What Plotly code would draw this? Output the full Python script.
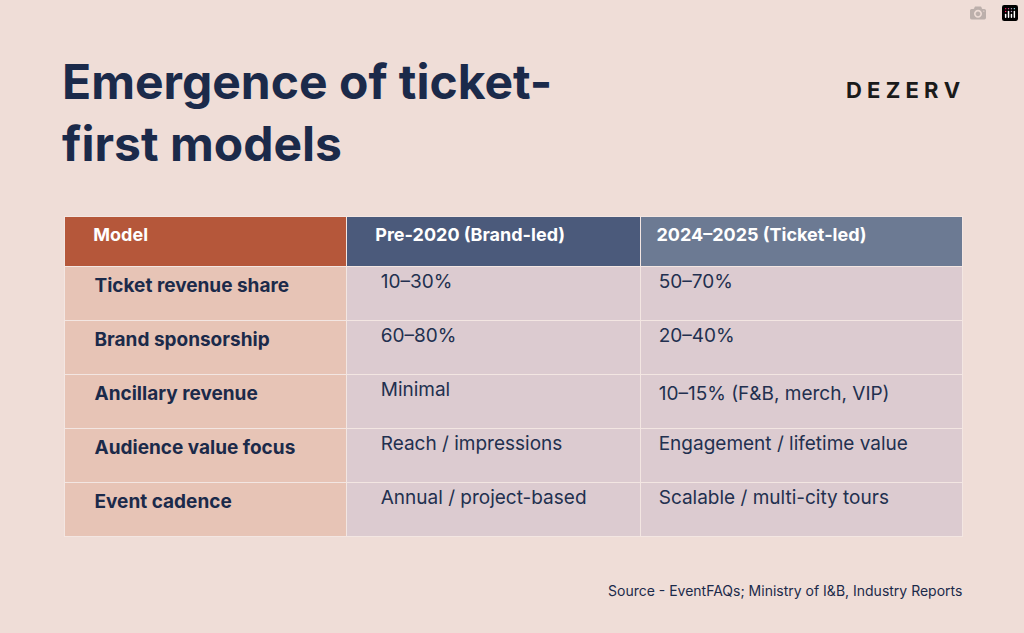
import plotly.graph_objects as go

headers = ["Model", "Pre-2020 (Brand-led)", "2024–2025 (Ticket-led)"]
models = ["Ticket revenue share", "Brand sponsorship", "Ancillary revenue",
          "Audience value focus", "Event cadence"]
pre2020 = ["10–30%", "60–80%", "Minimal", "Reach / impressions", "Annual / project-based"]
ticket_led = ["50–70%", "20–40%", "10–15% (F&B, merch, VIP)",
              "Engagement / lifetime value", "Scalable / multi-city tours"]

NB = "\u00a0"
def pad(lst, n):
    return [NB * n + s for s in lst]

navy = "#1B2A4A"
bg = "#EFDDD7"

fig = go.Figure(go.Table(
    domain=dict(x=[64/1024, 962/1024], y=[1-550/633, 1-216/633]),
    columnwidth=[282, 294, 322],
    header=dict(
        values=["<b>" + h + "</b>" for h in [NB*5 + headers[0], NB*5 + headers[1], NB*2 + headers[2]]],
        fill_color=["#B5573A", "#4B5A7B", "#6C7A93"],
        font=dict(family="Inter", size=18, color="white"),
        align="left", height=50, line=dict(color="#F3E6E2", width=1),
    ),
    cells=dict(
        values=[["<b>" + s + "</b>" for s in pad(models, 5)], pad(pre2020, 5), pad(ticket_led, 2)],
        fill_color=["#E7C4B6", "#DCCBD0", "#DCCBD0"],
        font=dict(family="Inter", size=19, color=[navy, "#22304F", "#22304F"]),
        align="left", height=54, line=dict(color="#F3E6E2", width=1),
    ),
))

fig.update_layout(
    width=1024, height=633, margin=dict(l=0, r=0, t=0, b=0),
    paper_bgcolor=bg, plot_bgcolor=bg,
    annotations=[
        dict(text="<b>Emergence of ticket-<br>first models</b>", x=60/1024, y=1-50/633,
             xref="paper", yref="paper", xanchor="left", yanchor="top", align="left",
             showarrow=False, font=dict(family="Inter", size=48, color=navy)),
        dict(text="<b>D E Z E R V</b>", x=962/1024, y=1-90/633, xref="paper", yref="paper",
             xanchor="right", yanchor="middle", showarrow=False,
             font=dict(family="Inter", size=22, color="#1A1A1A")),
        dict(text="Source - EventFAQs; Ministry of I&B, Industry Reports", x=964/1024, y=1-590/633,
             xref="paper", yref="paper", xanchor="right", yanchor="middle", showarrow=False,
             font=dict(family="Inter", size=14, color=navy)),
    ],
)
fig.write_html("out.html",
               post_script="document.body.style.margin='0';document.body.style.background='#EFDDD7';")
